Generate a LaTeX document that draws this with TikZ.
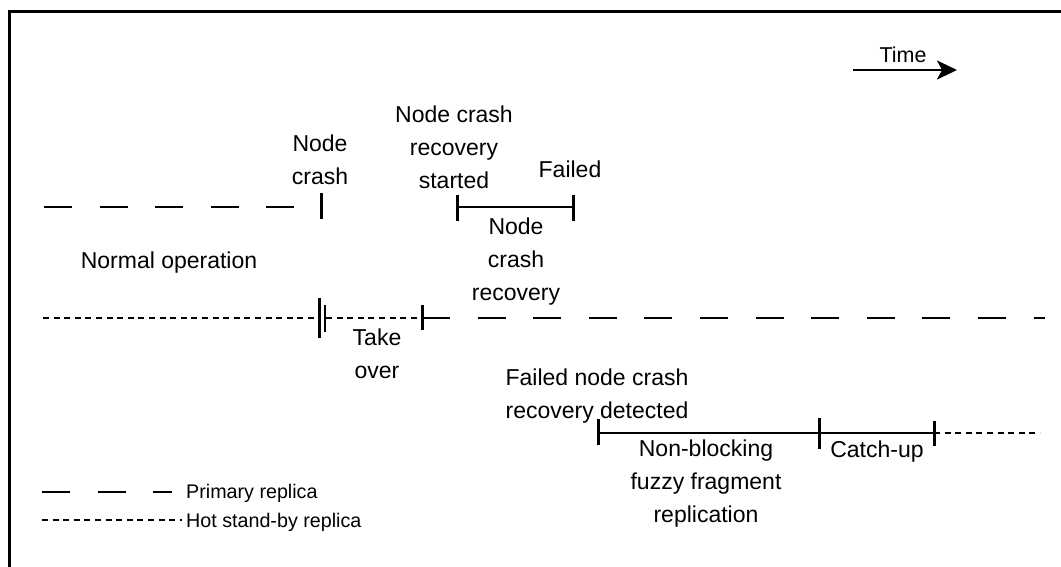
\documentclass[tikz,border=0pt]{standalone}
\usepackage{fontspec}
\setmainfont{Liberation Sans}
\usetikzlibrary{arrows.meta}
\begin{document}
\begin{tikzpicture}[x=1pt,y=-1pt,
  % multi-line labels are placed by the baseline of their last line
  lbl/.style={inner sep=0pt,anchor=base,align=center,
    font=\fontsize{23}{33}\selectfont},
  legtext/.style={inner sep=0pt,anchor=base west,
    font=\fontsize{19.7}{24}\selectfont},
  primary/.style={line width=2.5pt,dash pattern=on 28pt off 27.6pt},
  standby/.style={line width=2pt,dash pattern=on 6pt off 4.6pt},
  span/.style={line width=2.5pt},
  tick/.style={line width=3pt},
  frame/.style={line width=3pt,line cap=rect}]
\useasboundingbox (0,0) rectangle (1061,566);
% frame (top and left edges)
\draw[frame] (9,570) -- (9,11.5) -- (1070,11.5);

% time arrow
\coordinate (t0) at (853,70);
\coordinate (t1) at (957,70);
\draw[line width=2.5pt,-{Stealth[length=20pt,width=19pt,inset=5pt]}] (t0) -- (t1);
\node[lbl,font=\fontsize{21.5}{33}\selectfont] (timelbl) at (903,62) {Time};

% primary replica before the crash
\coordinate (p0) at (44,207);
\coordinate (p1) at (295,207);
\draw[primary] (p0) -- (p1);
\coordinate (c0) at (321,193); \coordinate (c1) at (321,219);
\draw[tick] (c0) -- (c1);
\node[lbl] (crashlbl) at (320,184) {Node\\crash};

% node crash recovery interval
\coordinate (r0) at (457,207); \coordinate (r1) at (573,207);
\draw[span] (r0) -- (r1);
\draw[tick] ([yshift=-14pt]r0) -- ([yshift=12pt]r0);
\draw[tick] ([yshift=-14pt]r1) -- ([yshift=12pt]r1);
\node[lbl] (startlbl) at (454,188) {Node crash\\recovery\\started};
\node[lbl] (faillbl) at (570,177) {Failed};
\node[lbl] (reclbl) at (516,300) {Node\\crash\\recovery};

\node[lbl] (normlbl) at (169,268) {Normal operation};

% hot stand-by, take over, then primary
\coordinate (s0) at (43,318); \coordinate (s1) at (318,318);
\draw[standby] (s0) -- (s1);
\coordinate (k0) at (319,298); \coordinate (k1) at (319,338);
\draw[tick] (k0) -- (k1);
\coordinate (k2) at (325,305); \coordinate (k3) at (325,332);
\draw[tick,line width=2.5pt] (k2) -- (k3);
\coordinate (s2) at (326,318); \coordinate (s3) at (421,318);
\draw[standby] (s2) -- (s3);
\coordinate (q0) at (422,318); \coordinate (q1) at (1045,318);
\draw[tick] ([yshift=-12pt]q0) -- ([yshift=13pt]q0);
\draw[primary] (q0) -- (q1);
\node[lbl] (takelbl) at (377,378) {Take\\over};

% replication and catch-up
\node[lbl] (detlbl) at (597,418) {Failed node crash\\recovery detected};
\coordinate (f0) at (598,433); \coordinate (f1) at (819,433); \coordinate (f2) at (934,433);
\draw[span] (f0) -- (f2);
\draw[tick] ([yshift=-12pt]f0) -- ([yshift=14pt]f0);
\draw[tick] ([yshift=-16pt]f1) -- ([yshift=15pt]f1);
\draw[tick] ([yshift=-13pt]f2) -- ([yshift=12pt]f2);
\coordinate (h1) at (1040,433);
\draw[standby] (f2) -- (h1);
\node[lbl] (nblbl) at (706,522) {Non-blocking\\fuzzy fragment\\replication};
\node[lbl] (cuplbl) at (877,457) {Catch-up};

% legend
\coordinate (l0) at (42,492); \coordinate (l1) at (172,492);
\draw[primary] (l0) -- (l1);
\node[legtext] (leg1) at (186,498) {Primary replica};
\coordinate (l2) at (42,520); \coordinate (l3) at (182,520);
\draw[standby] (l2) -- (l3);
\node[legtext] (leg2) at (186,527) {Hot stand-by replica};
\end{tikzpicture}
\end{document}
